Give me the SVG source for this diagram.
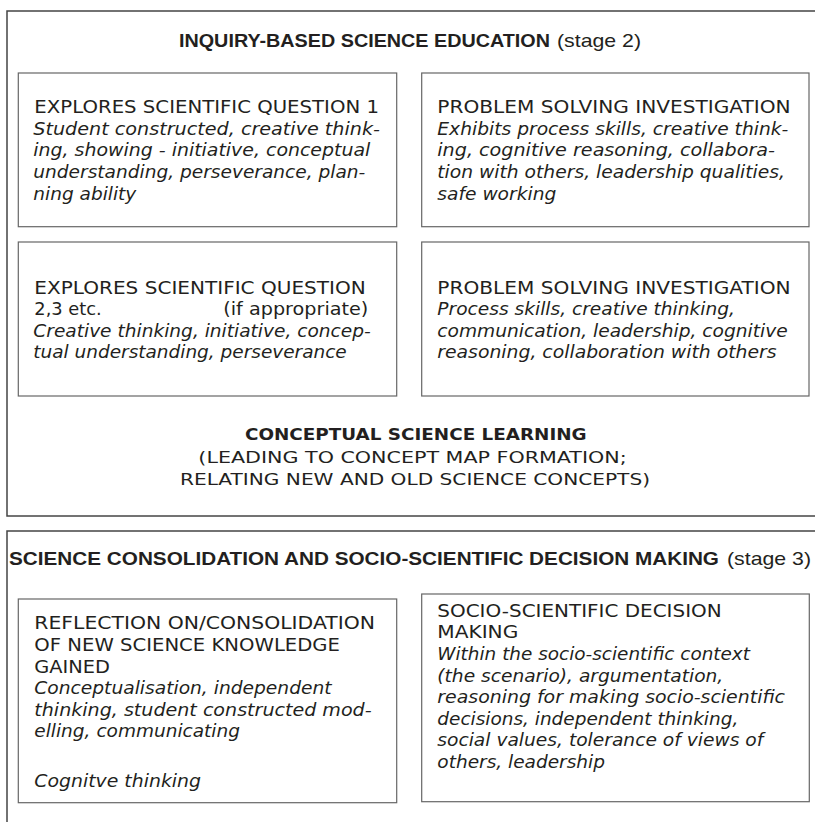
<svg xmlns="http://www.w3.org/2000/svg" width="815" height="822" viewBox="0 0 815 822">
<style>
.bg{fill:#ffffff}
.outer{fill:none;stroke:#444;stroke-width:1.5}
.box{fill:none;stroke:#666;stroke-width:1.2}
text{font-family:"DejaVu Sans","Liberation Sans",sans-serif;fill:#231f20}
.t{font-size:18px}
.i{font-size:18px;font-style:italic}
.h{font-family:"Liberation Sans",Arial,sans-serif;font-size:19px;font-weight:bold}
.hs{font-family:"Liberation Sans",Arial,sans-serif;font-size:19px}
.c{font-size:16px;text-anchor:middle}
.cb{font-size:16px;font-weight:bold;text-anchor:middle}
</style>
<rect class="bg" x="0" y="0" width="815" height="822"/>
<g id="stage2">
<rect class="outer" x="7" y="11" width="820" height="505"/>
<text class="h" x="179" y="47" textLength="371" lengthAdjust="spacingAndGlyphs">INQUIRY-BASED SCIENCE EDUCATION</text>
<text class="hs" x="557" y="47" textLength="84" lengthAdjust="spacingAndGlyphs">(stage 2)</text>
</g>
<g id="q1">
<rect class="box" x="18.3" y="73" width="378.4" height="153.7"/>
<text class="t" x="34.3" y="112.7" textLength="344.7" lengthAdjust="spacingAndGlyphs">EXPLORES SCIENTIFIC QUESTION 1</text>
<text class="i" x="33.3" y="134.5" textLength="346.7" lengthAdjust="spacingAndGlyphs">Student constructed, creative think-</text>
<text class="i" x="33.3" y="156.3" textLength="337" lengthAdjust="spacingAndGlyphs">ing, showing - initiative, conceptual</text>
<text class="i" x="33.3" y="178.1" textLength="332" lengthAdjust="spacingAndGlyphs">understanding, perseverance, plan-</text>
<text class="i" x="33.3" y="199.9" textLength="103" lengthAdjust="spacingAndGlyphs">ning ability</text>
</g>
<g id="psi1">
<rect class="box" x="421.7" y="73" width="387.3" height="153.7"/>
<text class="t" x="437.3" y="112.7" textLength="353.4" lengthAdjust="spacingAndGlyphs">PROBLEM SOLVING INVESTIGATION</text>
<text class="i" x="437.3" y="134.5" textLength="351" lengthAdjust="spacingAndGlyphs">Exhibits process skills, creative think-</text>
<text class="i" x="437.3" y="156.3" textLength="337.7" lengthAdjust="spacingAndGlyphs">ing, cognitive reasoning, collabora-</text>
<text class="i" x="437.3" y="178.1" textLength="347.7" lengthAdjust="spacingAndGlyphs">tion with others, leadership qualities,</text>
<text class="i" x="437.3" y="199.9" textLength="119" lengthAdjust="spacingAndGlyphs">safe working</text>
</g>
<g id="q2">
<rect class="box" x="18.3" y="242" width="378.4" height="154"/>
<text class="t" x="34.3" y="293.5" textLength="331.4" lengthAdjust="spacingAndGlyphs">EXPLORES SCIENTIFIC QUESTION</text>
<text class="t" x="34.3" y="315" textLength="67.4" lengthAdjust="spacingAndGlyphs">2,3  etc.</text>
<text class="t" x="223.3" y="315" textLength="145" lengthAdjust="spacingAndGlyphs">(if appropriate)</text>
<text class="i" x="33.3" y="336.5" textLength="337.4" lengthAdjust="spacingAndGlyphs">Creative thinking, initiative, concep-</text>
<text class="i" x="33.3" y="358" textLength="313.4" lengthAdjust="spacingAndGlyphs">tual understanding, perseverance</text>
</g>
<g id="psi2">
<rect class="box" x="421.7" y="242" width="387.3" height="154"/>
<text class="t" x="437.3" y="293.5" textLength="353.4" lengthAdjust="spacingAndGlyphs">PROBLEM SOLVING INVESTIGATION</text>
<text class="i" x="437.3" y="315" textLength="297.7" lengthAdjust="spacingAndGlyphs">Process skills, creative thinking,</text>
<text class="i" x="437.3" y="336.5" textLength="350.3" lengthAdjust="spacingAndGlyphs">communication, leadership, cognitive</text>
<text class="i" x="437.3" y="358" textLength="339.3" lengthAdjust="spacingAndGlyphs">reasoning, collaboration with others</text>
</g>
<g id="conceptual">
<text class="cb" x="415.8" y="440" textLength="341.7" lengthAdjust="spacingAndGlyphs">CONCEPTUAL SCIENCE LEARNING</text>
<text class="c" x="412.5" y="463" textLength="428.3" lengthAdjust="spacingAndGlyphs">(LEADING TO CONCEPT MAP FORMATION;</text>
<text class="c" x="415" y="485" textLength="470" lengthAdjust="spacingAndGlyphs">RELATING NEW AND OLD SCIENCE CONCEPTS)</text>
</g>
<g id="stage3">
<rect class="outer" x="7" y="531" width="820" height="300"/>
<text class="h" x="9" y="565" textLength="710" lengthAdjust="spacingAndGlyphs">SCIENCE CONSOLIDATION AND SOCIO-SCIENTIFIC DECISION MAKING</text>
<text class="hs" x="727" y="565" textLength="84" lengthAdjust="spacingAndGlyphs">(stage 3)</text>
</g>
<g id="reflection">
<rect class="box" x="18.3" y="599" width="378.4" height="203.7"/>
<text class="t" x="34.3" y="629.3" textLength="340.7" lengthAdjust="spacingAndGlyphs">REFLECTION ON/CONSOLIDATION</text>
<text class="t" x="34.3" y="650.9" textLength="305.7" lengthAdjust="spacingAndGlyphs">OF NEW SCIENCE KNOWLEDGE</text>
<text class="t" x="34.3" y="672.5" textLength="75.7" lengthAdjust="spacingAndGlyphs">GAINED</text>
<text class="i" x="34.3" y="694.1" textLength="297.3" lengthAdjust="spacingAndGlyphs">Conceptualisation, independent</text>
<text class="i" x="34.3" y="715.7" textLength="337.3" lengthAdjust="spacingAndGlyphs">thinking, student constructed mod-</text>
<text class="i" x="34.3" y="737.3" textLength="205.7" lengthAdjust="spacingAndGlyphs">elling, communicating</text>
<text class="i" x="34.3" y="786.7" textLength="166.7" lengthAdjust="spacingAndGlyphs">Cognitve thinking</text>
</g>
<g id="decision">
<rect class="box" x="421.7" y="594" width="387.6" height="207.7"/>
<text class="t" x="437.3" y="616.7" textLength="284.4" lengthAdjust="spacingAndGlyphs">SOCIO-SCIENTIFIC DECISION</text>
<text class="t" x="437.3" y="638.3" textLength="81" lengthAdjust="spacingAndGlyphs">MAKING</text>
<text class="i" x="437.3" y="659.9" textLength="312.7" lengthAdjust="spacingAndGlyphs">Within the socio-scientific context</text>
<text class="i" x="437.3" y="681.5" textLength="286" lengthAdjust="spacingAndGlyphs">(the scenario), argumentation,</text>
<text class="i" x="437.3" y="703.1" textLength="347.7" lengthAdjust="spacingAndGlyphs">reasoning for making socio-scientific</text>
<text class="i" x="437.3" y="724.7" textLength="301" lengthAdjust="spacingAndGlyphs">decisions, independent thinking,</text>
<text class="i" x="437.3" y="746.3" textLength="326" lengthAdjust="spacingAndGlyphs">social values, tolerance of views of</text>
<text class="i" x="437.3" y="767.9" textLength="167.7" lengthAdjust="spacingAndGlyphs">others, leadership</text>
</g>
<g id="connectors"></g>
</svg>
